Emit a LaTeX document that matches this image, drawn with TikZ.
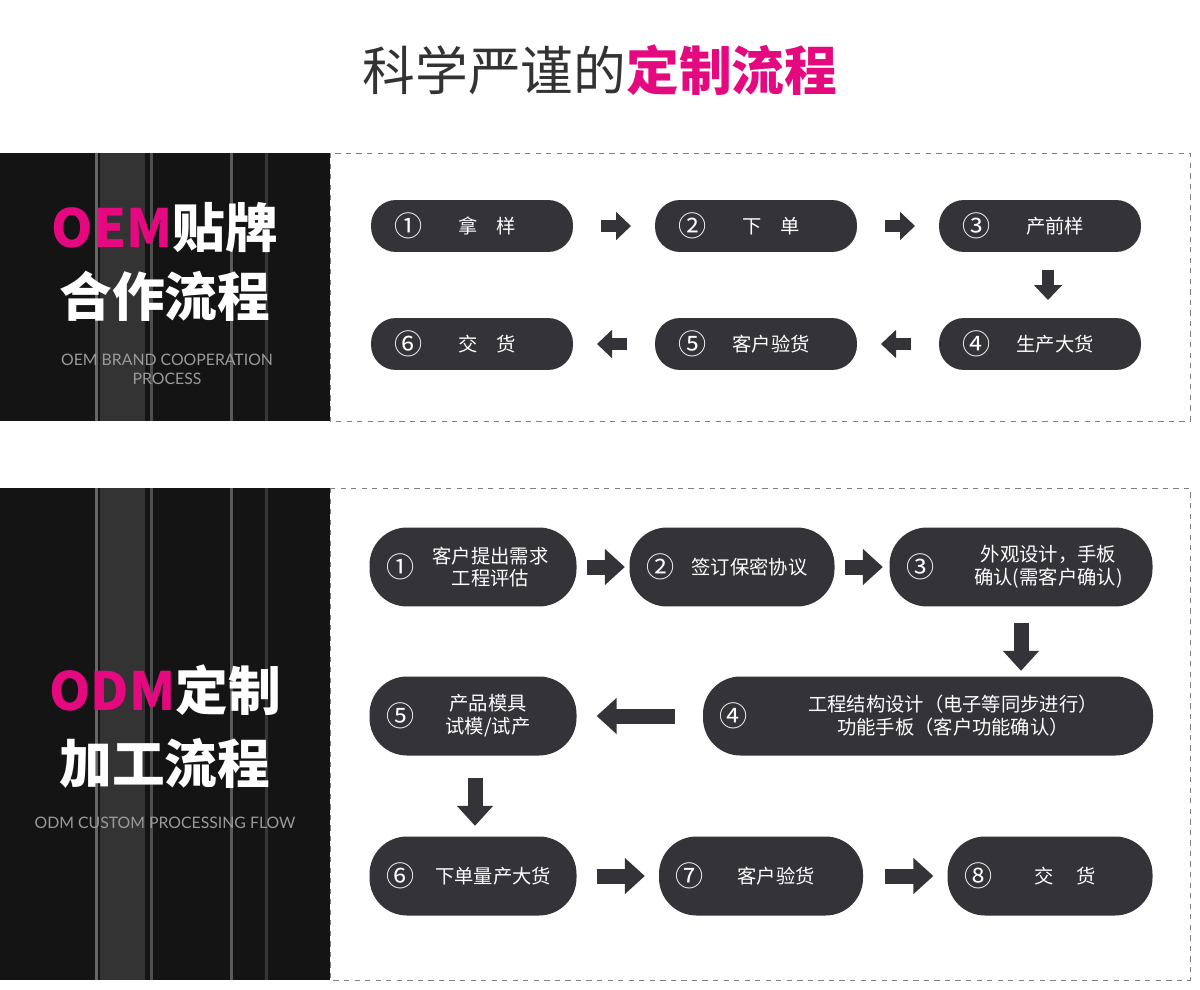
\documentclass[tikz,border=0pt]{standalone}
\usepackage{fontspec}
\setmainfont{Noto Sans CJK SC}
\newfontfamily\latinlight{Lato}
\usetikzlibrary{arrows.meta,positioning}
\definecolor{pillgray}{HTML}{333338}
\definecolor{hotpink}{HTML}{E4097F}
\definecolor{titlegray}{HTML}{333333}
\definecolor{subgray}{HTML}{9A9A9A}
\begin{document}
\begin{tikzpicture}[x=0.02cm,y=-0.02cm,
pill/.style={
  fill=pillgray,
  text=white,
  rounded corners=0.5cm,
  inner sep=0pt,
  align=center,
  font=\fontsize{11}{13}\selectfont
  },
bigpill/.style={
  pill,
  rounded corners=0.75cm
  },
num/.style={
  text=white,
  font=\fontsize{16}{16}\selectfont
  },
arr/.style={
  draw=pillgray,
  line width=0.24cm,
  -{Triangle[length=0.3cm,width=0.55cm]}
  },
bigarr/.style={
  draw=pillgray,
  line width=0.3cm,
  -{Triangle[length=0.4cm,width=0.7cm]}
  },
panel/.style={
  draw=gray,
  dashed,
  line width=0.4pt
  }
]
\useasboundingbox (0,0) rectangle (1200,990);
\fill[white] (0,0) rectangle (1200,990);

% title
\node[font=\fontsize{30}{34}\selectfont, text=titlegray] (title) at (600,70)
  {科学严谨的\textcolor{hotpink}{\bfseries 定制流程}};

% dark side panels
\foreach \ytop/\ybot in {153/421, 488/980}
{
  \fill[black!92] (0,\ytop) rectangle (330,\ybot);
  \foreach \xs/\op in {95/0.35,120/0.2,150/0.25,230/0.3,265/0.15}
    \fill[white,opacity=\op] (\xs,\ytop) rectangle ++(3,\ybot-\ytop);
  \fill[black!80] (100,\ytop) rectangle (145,\ybot);
  \draw[panel] (330,\ytop) rectangle (1190,\ybot);
}

% OEM panel
\node[text=white, font=\fontsize{30}{34}\selectfont\bfseries] (oemA) at (165,228)
  {\textcolor{hotpink}{OEM}贴牌};
\node[text=white, font=\fontsize{30}{34}\selectfont\bfseries] (oemB) at (165,296) {合作流程};
\node[text=subgray, align=center, font=\latinlight\fontsize{9}{11}\selectfont] (oemC) at (167,369)
  {OEM BRAND COOPERATION\\PROCESS};

\foreach \name/\cx/\cy/\n/\txt in {
  a1/472/226/①/拿\hspace{1em}样, a2/756/226/②/下\hspace{1em}单, a3/1040/226/③/产前样,
  a4/1040/344/④/生产大货, a5/756/344/⑤/客户验货, a6/472/344/⑥/交\hspace{1em}货}
{
  \node[pill, minimum width=4.04cm, minimum height=1.04cm] (\name) at (\cx,\cy) {};
  \node[num] (\name n) at ([xshift=0.76cm]\name.west) {\n};
  \node[text=white, font=\fontsize{11}{13}\selectfont] (\name t) at ([xshift=0.3cm]\name.center) {\txt};
}
\draw[arr] (a1) ++(129,0) coordinate (s1) -- ++(30,0);
\draw[arr] (a2) ++(129,0) coordinate (s2) -- ++(30,0);
\draw[arr] (a3) ++(8,44) coordinate (s3) -- ++(0,30);
\draw[arr] (a4) ++(-129,0) coordinate (s4) -- ++(-30,0);
\draw[arr] (a5) ++(-129,0) coordinate (s5) -- ++(-30,0);

% ODM panel
\node[text=white, font=\fontsize{30}{34}\selectfont\bfseries] (odmA) at (165,690)
  {\textcolor{hotpink}{ODM}定制};
\node[text=white, font=\fontsize{30}{34}\selectfont\bfseries] (odmB) at (165,763) {加工流程};
\node[text=subgray, font=\latinlight\fontsize{9}{11}\selectfont] (odmC) at (165,823)
  {ODM CUSTOM PROCESSING FLOW};

\foreach \name/\cx/\cy/\w/\n/\txt/\dx in {
  b1/473/567/207/①/{客户提出需求\\工程评估}/0.35,
  b2/732/567/205/②/{签订保密协议}/0.35,
  b3/1021/567/263/③/{外观设计，手板\\确认(需客户确认)}/0.55,
  b4/928/716/450/④/{工程结构设计（电子等同步进行）\\功能手板（客户功能确认）}/0.5,
  b5/473/716/207/⑤/{产品模具\\试模/试产}/0.3,
  b6/473/876/207/⑥/{下单量产大货}/0.4,
  b7/761/876/204/⑦/{客户验货}/0.3,
  b8/1050/876/205/⑧/{交\hspace{1.2em}货}/0.3}
{
  \node[bigpill, minimum width=\w*0.02cm, minimum height=1.58cm] (\name) at (\cx,\cy) {};
  \node[num] (\name n) at ([xshift=0.62cm]\name.west) {\n};
  \node[text=white, align=center, font=\fontsize{11}{13}\selectfont] (\name t)
    at ([xshift=\dx cm]\name.center) {\txt};
}
\draw[bigarr] (b1.east) ++(10,0) coordinate (u1) -- ++(38,0);
\draw[bigarr] (b2.east) ++(10,0) coordinate (u2) -- ++(38,0);
\draw[bigarr] (b3.south) ++(0,16) coordinate (u3) -- ++(0,48);
\draw[bigarr] (b4.west) ++(-28,0) coordinate (u4) -- ++(-78,0);
\draw[bigarr] (b5.south) ++(2,22) coordinate (u5) -- ++(0,48);
\draw[bigarr] (b6.east) ++(20,0) coordinate (u6) -- ++(48,0);
\draw[bigarr] (b7.east) ++(22,0) coordinate (u7) -- ++(48,0);
\end{tikzpicture}
\end{document}
